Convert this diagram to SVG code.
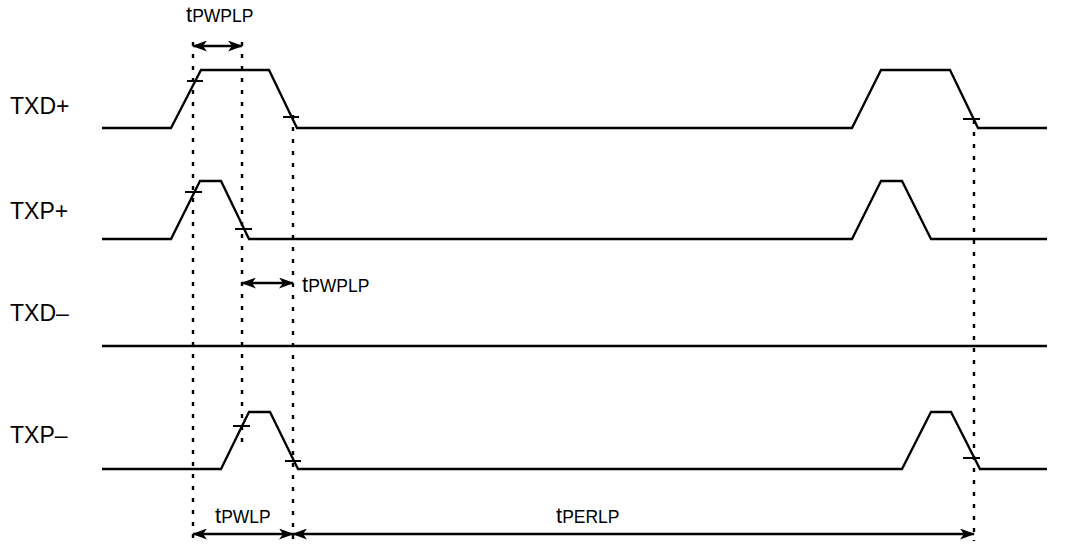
<svg xmlns="http://www.w3.org/2000/svg" width="1065" height="548" viewBox="0 0 1065 548">
<style>
.sig{fill:none;stroke:#000;stroke-width:2.3;stroke-linejoin:miter}
.tick{stroke:#000;stroke-width:2}
.dot{stroke:#000;stroke-width:2.4;stroke-dasharray:4 8}
.arr{stroke:#000;stroke-width:2.3;marker-start:url(#ah);marker-end:url(#ah)}
.lbl{font-family:"Liberation Sans",Arial,sans-serif;font-size:23px;fill:#000}
.t{font-family:"Liberation Sans",Arial,sans-serif;font-size:22px;fill:#000}
.sub{font-size:17.5px}
</style>
<defs>
<marker id="ah" viewBox="0 0 15 11" refX="14" refY="5.5" markerWidth="15" markerHeight="11" markerUnits="userSpaceOnUse" orient="auto-start-reverse">
<path d="M0,0 L15,5.5 L0,11 L4,5.5 z" fill="#000"/>
</marker>
</defs>
<rect width="1065" height="548" fill="#fff"/>
<g id="labels">
<text class="lbl" x="10" y="114">TXD+</text>
<text class="lbl" x="10" y="219">TXP+</text>
<text class="lbl" x="10" y="321">TXD–</text>
<text class="lbl" x="10" y="443">TXP–</text>
</g>
<g id="TXDp">
<path class="sig" d="M102,128 H171 L201,70 H269 L297,128 H852 L881,70 H950 L978,128 H1047"/>
<line class="tick" x1="187" y1="81" x2="203" y2="81"/>
<line class="tick" x1="283" y1="117" x2="299" y2="117"/>
<line class="tick" x1="963" y1="119" x2="980" y2="119"/>
</g>
<g id="TXPp">
<path class="sig" d="M102,239 H171 L200,181 H221 L249,239 H852 L881,181 H902 L931,239 H1047"/>
<line class="tick" x1="185" y1="192" x2="202" y2="192"/>
<line class="tick" x1="235" y1="229" x2="252" y2="229"/>
</g>
<g id="TXDm">
<path class="sig" d="M102,346 H1047"/>
</g>
<g id="TXPm">
<path class="sig" d="M102,469 H221 L249,412 H270 L298,469 H902 L931,412 H951 L980,469 H1047"/>
<line class="tick" x1="233" y1="426" x2="250" y2="426"/>
<line class="tick" x1="285" y1="461" x2="301" y2="461"/>
<line class="tick" x1="963" y1="458" x2="980" y2="458"/>
</g>
<g id="connectors">
<line class="dot" x1="193" y1="42" x2="193" y2="541"/>
<line class="dot" x1="242" y1="42" x2="242" y2="450"/>
<line class="dot" x1="293" y1="115" x2="293" y2="541"/>
<line class="dot" x1="974" y1="120" x2="974" y2="541"/>
<line class="arr" x1="193" y1="46" x2="242" y2="46"/>
<line class="arr" x1="242" y1="283" x2="293" y2="283"/>
<line class="arr" x1="193" y1="534" x2="293" y2="534"/>
<line class="arr" x1="293" y1="534" x2="974" y2="534"/>
</g>
<g id="timing">
<text class="t" x="186" y="22">t<tspan class="sub">PWPLP</tspan></text>
<text class="t" x="302" y="292">t<tspan class="sub">PWPLP</tspan></text>
<text class="t" x="215" y="523">t<tspan class="sub">PWLP</tspan></text>
<text class="t" x="556" y="523">t<tspan class="sub">PERLP</tspan></text>
</g>
</svg>
